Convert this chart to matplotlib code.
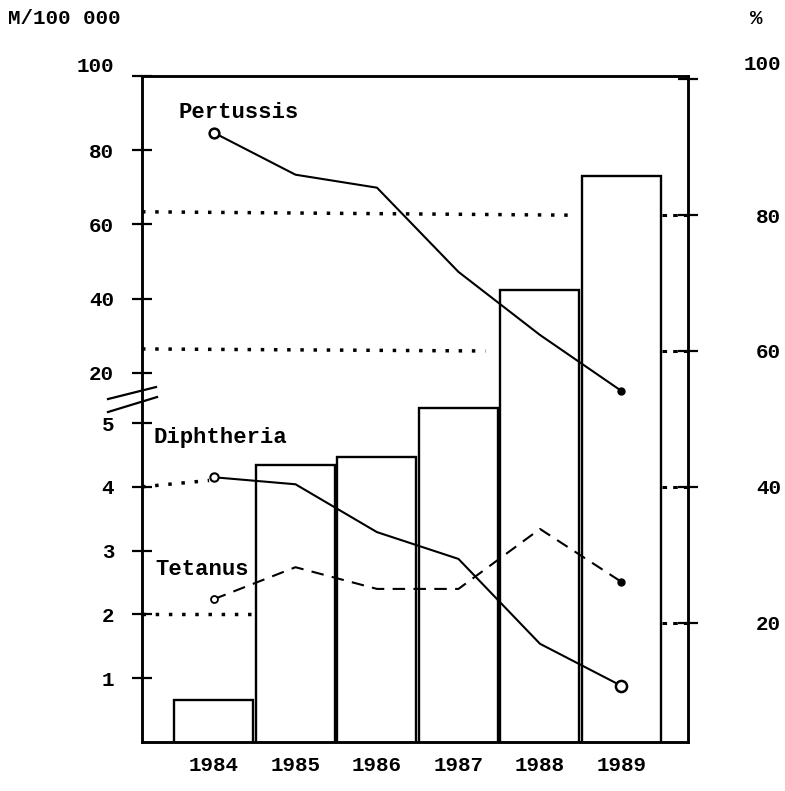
import numpy as np
import matplotlib
matplotlib.use("Agg")
import matplotlib.pyplot as plt
from matplotlib.transforms import ScaledTranslation

# data
years = ["1984", "1985", "1986", "1987", "1988", "1989"]
coverage = [8.6, 43.2, 44.4, 51.6, 69.0, 85.8]          # bars, right axis (%)
pertussis = [84.7, 73.4, 69.9, 47.2, 30.2, 15.1]        # per 100 000
diphtheria = [4.15, 4.04, 3.29, 2.87, 1.54, 0.88]
tetanus = [2.24, 2.74, 2.40, 2.40, 3.34, 2.51]

left_ticks = [1, 2, 3, 4, 5, 20, 40, 60, 80, 100]
right_ticks = [20, 40, 60, 80, 100]

# broken left axis: 0..5 stretched, 7..100 compressed
brk_vals = [0, 5, 7, 100]
brk_pos = [0, 319, 321, 666]

def fwd(v):
    return np.interp(v, brk_vals, brk_pos)

def inv(p):
    return np.interp(p, brk_pos, brk_vals)

mono = "Liberation Mono"
plt.rcParams["font.family"] = [mono, "DejaVu Sans"]
plt.rcParams["font.weight"] = "bold"

fig = plt.figure(figsize=(7.85, 7.91), dpi=100)
ax = fig.add_axes([0.1809, 0.0619, 0.6955, 0.842])
ax2 = ax.twinx()

x = np.arange(len(years))

ax.set_yscale("function", functions=(fwd, inv))
ax.set_ylim(0, 100)
ax.set_xlim(-0.883, 5.816)
ax2.set_ylim(2.4, 100.5)

# bars (vaccination coverage) on right axis
ax2.bar(x, coverage, width=0.97, bottom=0, facecolor="none",
        edgecolor="black", linewidth=1.7)

# incidence lines on left axis
ax.plot(x, pertussis, color="black", lw=1.5)
ax.plot(x[0], pertussis[0], "o", ms=7, mfc="white", mec="black", mew=1.8)
ax.plot(x[-1], pertussis[-1], "o", ms=5, color="black")

ax.plot(x, diphtheria, color="black", lw=1.5)
ax.plot(x[0], diphtheria[0], "o", ms=6, mfc="white", mec="black", mew=1.5)
ax.plot(x[-1], diphtheria[-1], "o", ms=8, mfc="white", mec="black", mew=1.8)

ax.plot(x, tetanus, color="black", lw=1.5, linestyle=(0, (6, 4)))
ax.plot(x[0], tetanus[0], "o", ms=5, mfc="white", mec="black", mew=1.3)
ax.plot(x[-1], tetanus[-1], "o", ms=5, color="black")

# dotted guide lines
dot = (0, (1, 2.8))
ax2.plot([-0.883, 4.43], [80.5, 80.0], color="black", lw=2.5, linestyle=dot)
ax2.plot([-0.883, 3.33], [60.3, 60.0], color="black", lw=2.5, linestyle=dot)
ax.plot([-0.883, -0.06], [4.0, diphtheria[0] - 0.05], color="black", lw=2.5, linestyle=dot)
ax.plot([-0.883, 0.48], [2.0, 2.0], color="black", lw=2.5, linestyle=dot)
for t in right_ticks[:-1]:
    ax2.plot([5.5, 5.816], [t, t], color="black", lw=2.2, linestyle=(0, (1.5, 2)))

# series labels
ax.text(-0.44, 90.3, "Pertussis", fontsize=16, va="center", ha="left")
ax.text(-0.74, 4.78, "Diphtheria", fontsize=16, va="center", ha="left")
ax.text(-0.72, 2.70, "Tetanus", fontsize=16, va="center", ha="left")

# axes styling
ax.set_yticks(left_ticks)
ax.set_yticklabels([str(t) for t in left_ticks])
ax.yaxis.set_minor_locator(matplotlib.ticker.NullLocator())
ax.tick_params(axis="y", direction="inout", length=14, width=1.6,
               labelsize=15, pad=13)
ax.set_xticks(x)
ax.set_xticklabels(years)
ax.tick_params(axis="x", length=0, labelsize=15, pad=10)

ax2.set_yticks(right_ticks)
ax2.tick_params(axis="y", direction="inout", length=14, width=1.6,
                labelsize=15, pad=60)
for lab in ax2.get_yticklabels():
    lab.set_ha("right")

# top labels sit a little above the frame in the original
up = ScaledTranslation(0, 8 / 72, fig.dpi_scale_trans)
ax.get_yticklabels()[-1].set_transform(ax.get_yticklabels()[-1].get_transform() + up)
up2 = ScaledTranslation(0, 12 / 72, fig.dpi_scale_trans)
ax2.get_yticklabels()[-1].set_transform(ax2.get_yticklabels()[-1].get_transform() + up2)

for a in (ax, ax2):
    for s in a.spines.values():
        s.set_linewidth(1.8)

# axis break marks on the left spine
ax.plot([-0.0623, 0.0256], [0.515, 0.533], color="black", lw=1.6,
        transform=ax.transAxes, clip_on=False)
ax.plot([-0.0623, 0.0275], [0.4955, 0.518], color="black", lw=1.6,
        transform=ax.transAxes, clip_on=False)

fig.text(0.01, 0.977, "M/100 000", fontsize=15, va="center", ha="left")
fig.text(0.955, 0.977, "%", fontsize=15, va="center", ha="left")

fig.savefig("out.png", dpi=100, facecolor="white")
